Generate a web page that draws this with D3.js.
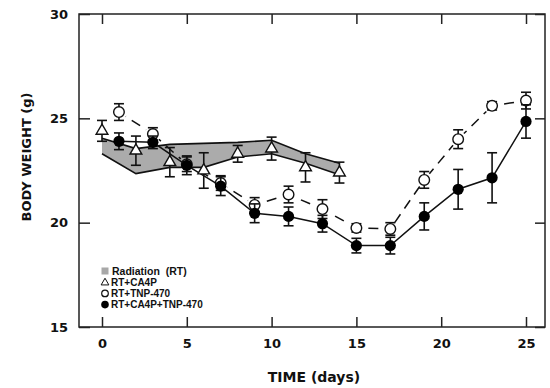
<!DOCTYPE html>
<html>
<head>
<meta charset="utf-8">
<script src="https://cdn.jsdelivr.net/npm/d3@7"></script>
<style>
  body { margin: 0; background: #fff; }
  svg { display: block; }
</style>
</head>
<body>
<svg id="chart"></svg>
<script>
// Radiation (RT) band: mean +/- SE, drawn as a shaded strip
var rtDays = [0, 2, 4, 6, 8, 10, 12, 14]
var rtUpper = [24.05, 23.55, 23.75, 23.8, 23.85, 23.95, 23.3, 22.85]
var rtLower = [23.3, 22.35, 22.65, 22.65, 23.15, 23.3, 22.85, 22.3]

// RT+CA4P (open triangles)
var ca4pDays = [0, 2, 4, 6, 8, 10, 12, 14]
var ca4pMean = [24.4, 23.45, 22.9, 22.5, 23.3, 23.55, 22.65, 22.4]
var ca4pErr = [0.5, 0.7, 0.7, 0.85, 0.4, 0.55, 0.7, 0.5]

// RT+TNP-470 (open circles) and RT+CA4P+TNP-470 (filled circles)
var circDays = [1, 3, 5, 7, 9, 11, 13, 15, 17, 19, 21, 23, 25]
var tnpMean = [25.3, 24.25, 22.8, 21.9, 20.85, 21.35, 20.65, 19.75, 19.7, 22.05, 24.0, 25.6, 25.85]
var tnpErr = [0.4, 0.3, 0.35, 0.35, 0.35, 0.4, 0.45, 0.2, 0.3, 0.4, 0.45, 0.2, 0.4]
var comboMean = [23.9, 23.85, 22.75, 21.75, 20.45, 20.3, 19.95, 18.9, 18.9, 20.3, 21.6, 22.15, 24.85]
var comboErr = [0.4, 0.3, 0.45, 0.45, 0.45, 0.45, 0.4, 0.35, 0.4, 0.65, 0.95, 1.2, 0.8]

var xTicks = [0, 5, 10, 15, 20, 25]
var yTicks = [15, 20, 25, 30]
var legendLabels = ["Radiation  (RT)", "RT+CA4P", "RT+TNP-470", "RT+CA4P+TNP-470"]

var dimensions = {
    width: 550,
    height: 388,
    frame: { left: 79, right: 545, top: 14, bottom: 327 }
}

var svg = d3.select("#chart")
    .attr("width", dimensions.width)
    .attr("height", dimensions.height)

var xScale = d3.scaleLinear()
    .domain([0, 25])
    .range([102, 526])

var yScale = d3.scaleLinear()
    .domain([15, 30])
    .range([dimensions.frame.bottom, dimensions.frame.top])

var f = dimensions.frame
var boldFont = "'DejaVu Sans', sans-serif"

// frame
svg.append("rect")
    .attr("x", f.left)
    .attr("y", f.top)
    .attr("width", f.right - f.left)
    .attr("height", f.bottom - f.top)
    .attr("fill", "none")
    .attr("stroke", "#222")
    .attr("stroke-width", 1.5)

// axes (inward ticks on all four sides)
var xAxisBottom = d3.axisBottom(xScale).tickValues(xTicks).tickSize(-10).tickPadding(12)
var xAxisTop = d3.axisTop(xScale).tickValues(xTicks).tickSize(-10).tickFormat("")
var yAxisLeft = d3.axisLeft(yScale).tickValues(yTicks).tickSize(-11).tickPadding(11)
var yAxisRight = d3.axisRight(yScale).tickValues(yTicks).tickSize(-10).tickFormat("")

var gx = svg.append("g").attr("transform", `translate(0,${f.bottom})`).call(xAxisBottom)
svg.append("g").attr("transform", `translate(0,${f.top})`).call(xAxisTop)
var gy = svg.append("g").attr("transform", `translate(${f.left},0)`).call(yAxisLeft)
svg.append("g").attr("transform", `translate(${f.right},0)`).call(yAxisRight)

svg.selectAll(".domain").remove()
svg.selectAll(".tick line").attr("stroke", "#222").attr("stroke-width", 1.5)
svg.selectAll(".tick text")
    .attr("font-family", boldFont)
    .attr("font-weight", "bold")
    .attr("font-size", 13)
    .attr("fill", "#111")
gx.selectAll(".tick text").attr("dy", "0.71em")

// axis titles
svg.append("text")
    .attr("x", 314)
    .attr("y", 382)
    .attr("text-anchor", "middle")
    .attr("font-family", boldFont)
    .attr("font-weight", "bold")
    .attr("font-size", 14)
    .attr("fill", "#111")
    .text("TIME (days)")

svg.append("text")
    .attr("transform", "translate(31,157) rotate(-90)")
    .attr("text-anchor", "middle")
    .attr("font-family", boldFont)
    .attr("font-weight", "bold")
    .attr("font-size", 13)
    .attr("fill", "#111")
    .text("BODY WEIGHT (g)")

// RT band
var band = rtDays.map((d, i) => ({ day: d, hi: rtUpper[i], lo: rtLower[i] }))

svg.append("path")
    .datum(band)
    .attr("d", d3.area().x(d => xScale(d.day)).y0(d => yScale(d.lo)).y1(d => yScale(d.hi)))
    .attr("fill", "#ababab")

svg.append("path")
    .datum(band)
    .attr("d", d3.line().x(d => xScale(d.day)).y(d => yScale(d.hi)))
    .attr("fill", "none").attr("stroke", "#111").attr("stroke-width", 1.6)

svg.append("path")
    .datum(band)
    .attr("d", d3.line().x(d => xScale(d.day)).y(d => yScale(d.lo)))
    .attr("fill", "none").attr("stroke", "#111").attr("stroke-width", 1.6)

var tnp = circDays.map((d, i) => ({ day: d, mean: tnpMean[i], err: tnpErr[i] }))
var combo = circDays.map((d, i) => ({ day: d, mean: comboMean[i], err: comboErr[i] }))
var ca4p = ca4pDays.map((d, i) => ({ day: d, mean: ca4pMean[i], err: ca4pErr[i] }))

// dashed connectors for RT+TNP-470, cut short near markers
var gap = 8
var segs = d3.pairs(tnp).map(p => {
    var x1 = xScale(p[0].day), y1 = yScale(p[0].mean)
    var x2 = xScale(p[1].day), y2 = yScale(p[1].mean)
    var len = Math.hypot(x2 - x1, y2 - y1)
    var ux = (x2 - x1) / len, uy = (y2 - y1) / len
    return { x1: x1 + ux * gap, y1: y1 + uy * gap, x2: x2 - ux * gap, y2: y2 - uy * gap, len: len - 2 * gap }
})

svg.selectAll(".dashseg")
    .data(segs)
    .enter()
    .append("line")
    .attr("x1", d => d.x1).attr("y1", d => d.y1)
    .attr("x2", d => d.x2).attr("y2", d => d.y2)
    .attr("stroke", "#111")
    .attr("stroke-width", 1.5)
    .attr("stroke-dasharray", "10,7")
    .attr("stroke-dashoffset", d => -((d.len - 10) / 2 % 17))

// solid connector for RT+CA4P+TNP-470
svg.append("path")
    .datum(combo)
    .attr("d", d3.line().x(d => xScale(d.day)).y(d => yScale(d.mean)))
    .attr("fill", "none")
    .attr("stroke", "#111")
    .attr("stroke-width", 1.5)

function errorBars(data, cls) {
    var g = svg.append("g").attr("class", cls)
    var items = g.selectAll("g").data(data).enter().append("g")
    items.append("line")
        .attr("x1", d => xScale(d.day)).attr("x2", d => xScale(d.day))
        .attr("y1", d => yScale(d.mean + d.err)).attr("y2", d => yScale(d.mean - d.err))
    items.append("line")
        .attr("x1", d => xScale(d.day) - 5).attr("x2", d => xScale(d.day) + 5)
        .attr("y1", d => yScale(d.mean + d.err)).attr("y2", d => yScale(d.mean + d.err))
    items.append("line")
        .attr("x1", d => xScale(d.day) - 5).attr("x2", d => xScale(d.day) + 5)
        .attr("y1", d => yScale(d.mean - d.err)).attr("y2", d => yScale(d.mean - d.err))
    g.selectAll("line").attr("stroke", "#111").attr("stroke-width", 1.6)
}

// triangles
errorBars(ca4p, "err-ca4p")
var tri = d3.symbol().type(d3.symbolTriangle).size(60)
svg.selectAll(".tri")
    .data(ca4p)
    .enter()
    .append("path")
    .attr("d", tri)
    .attr("transform", d => `translate(${xScale(d.day)},${yScale(d.mean)})`)
    .attr("fill", "#fff")
    .attr("stroke", "#111")
    .attr("stroke-width", 1.4)

// open circles
errorBars(tnp, "err-tnp")
svg.selectAll(".open")
    .data(tnp)
    .enter()
    .append("circle")
    .attr("cx", d => xScale(d.day))
    .attr("cy", d => yScale(d.mean))
    .attr("r", 5.3)
    .attr("fill", "#fff")
    .attr("stroke", "#111")
    .attr("stroke-width", 1.4)

// filled circles
errorBars(combo, "err-combo")
svg.selectAll(".filled")
    .data(combo)
    .enter()
    .append("circle")
    .attr("cx", d => xScale(d.day))
    .attr("cy", d => yScale(d.mean))
    .attr("r", 5.6)
    .attr("fill", "#000")

// legend
var legend = svg.append("g").attr("transform", "translate(105,271)")
var rowH = 11.2
legendLabels.forEach((lab, i) => {
    var row = legend.append("g").attr("transform", `translate(0,${i * rowH})`)
    if (i === 0) {
        row.append("rect").attr("x", -3.5).attr("y", -3.5).attr("width", 7).attr("height", 7).attr("fill", "#a8a8a8")
    } else if (i === 1) {
        row.append("path").attr("d", d3.symbol().type(d3.symbolTriangle).size(26)).attr("transform", "translate(0,0.5)")
            .attr("fill", "#fff").attr("stroke", "#111").attr("stroke-width", 1)
    } else if (i === 2) {
        row.append("circle").attr("r", 3.3).attr("fill", "#fff").attr("stroke", "#111").attr("stroke-width", 1.2)
    } else {
        row.append("circle").attr("r", 3.8).attr("fill", "#000")
    }
    row.append("text")
        .attr("x", i === 0 ? 7 : 6)
        .attr("y", 0)
        .attr("dy", "0.36em")
        .attr("font-family", "'Liberation Sans', Arial, sans-serif")
        .attr("font-weight", "bold")
        .attr("font-size", i === 0 ? 10.5 : 10)
        .attr("fill", "#111")
        .style("white-space", "pre")
        .text(lab)
})
</script>
</body>
</html>
